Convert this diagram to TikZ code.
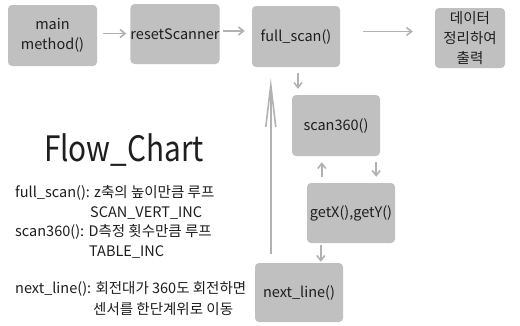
\documentclass[tikz,border=0pt]{standalone}
\usepackage{fontspec}
\setmainfont{Noto Sans CJK KR}
\usetikzlibrary{arrows.meta}
\definecolor{boxgray}{RGB}{192,192,192}
\definecolor{arrgray}{RGB}{178,178,178}
\definecolor{txt}{RGB}{30,30,30}
\tikzset{
  fbox/.style={fill=boxgray, rounded corners=4pt, inner sep=0pt, align=center, font=\fontsize{14.5}{20}\selectfont, text=txt},
  arr/.style={draw=arrgray, line width=1.6pt, -{Straight Barb[length=5pt,width=8pt]}},
  bigarr/.style={draw=arrgray, line width=1.6pt, -{Straight Barb[length=42pt,width=10pt]}},
  desc/.style={anchor=west, inner sep=0pt, font=\fontsize{14.5}{17}\selectfont, text=txt},
}
\begin{document}
\begin{tikzpicture}[x=1pt,y=-1pt]
\useasboundingbox (0,0) rectangle (520,325);
\fill[white] (0,0) rectangle (520,325);
\newcommand{\bx}[6]{\node[fbox, minimum width=#4-#2, minimum height=#5-#3] (#1) at ({(#2+#4)/2},{(#3+#5)/2}) {#6};}
\bx{main}{8}{5}{97}{66}{main\\method()}
\bx{reset}{131}{4}{219}{64}{resetScanner}
\bx{full}{252}{6}{340}{67}{full\_scan()}
\bx{data}{435}{8}{505}{68}{데이터\\정리하여\\출력}
\bx{scan}{292}{95}{380}{156}{scan360()}
\bx{getxy}{307}{183}{395}{243}{getX(),getY()}
\bx{next}{255}{263}{343}{322}{next\_line()}

\draw[arr, shorten <=6pt, shorten >=4pt] ([yshift=2pt]main.east) -- ([yshift=2pt]main.east -| reset.west);
\draw[arr, shorten <=3pt, shorten >=7pt] ([yshift=3pt]reset.east) -- ([yshift=3pt]reset.east -| full.west);
\draw[arr, shorten <=23pt, shorten >=22pt] ([yshift=5pt]full.east) -- ([yshift=5pt]full.east -| data.west);
\draw[arr, shorten <=6pt, shorten >=6pt] ([xshift=2pt]full.south) -- ([xshift=2pt]full.south |- scan.north);
\draw[arr, shorten <=6pt, shorten >=6pt] ([xshift=15pt]getxy.north west) -- ([xshift=15pt]getxy.north west |- scan.south);
\draw[arr, shorten <=6pt, shorten >=6pt] ([xshift=-4pt]scan.south east) -- ([xshift=-4pt]scan.south east |- getxy.north);
\draw[arr, shorten <=2pt, shorten >=1pt] ([xshift=14pt]getxy.south west) -- ([xshift=14pt]getxy.south west |- next.north);
\draw[bigarr, shorten <=9pt, shorten >=11pt] ([xshift=16pt]next.north west) -- ([xshift=16pt]next.north west |- full.south);

\node[inner sep=0pt, anchor=base, font=\fontsize{35}{40}\selectfont, text=txt, xscale=0.85] (title) at (124,161) {Flow\_Chart};
\node[desc] (d1) at (15,193) {full\_scan(): z축의 높이만큼 루프};
\node[desc] (d2) at (90,213) {SCAN\_VERT\_INC};
\node[desc] (d3) at (15,232) {scan360(): D측정 횟수만큼 루프};
\node[desc] (d4) at (89,252) {TABLE\_INC};
\node[desc] (d5) at (15,289) {next\_line(): 회전대가 360도 회전하면};
\node[desc] (d6) at (93,309) {센서를 한단계위로 이동};
\end{tikzpicture}
\end{document}
